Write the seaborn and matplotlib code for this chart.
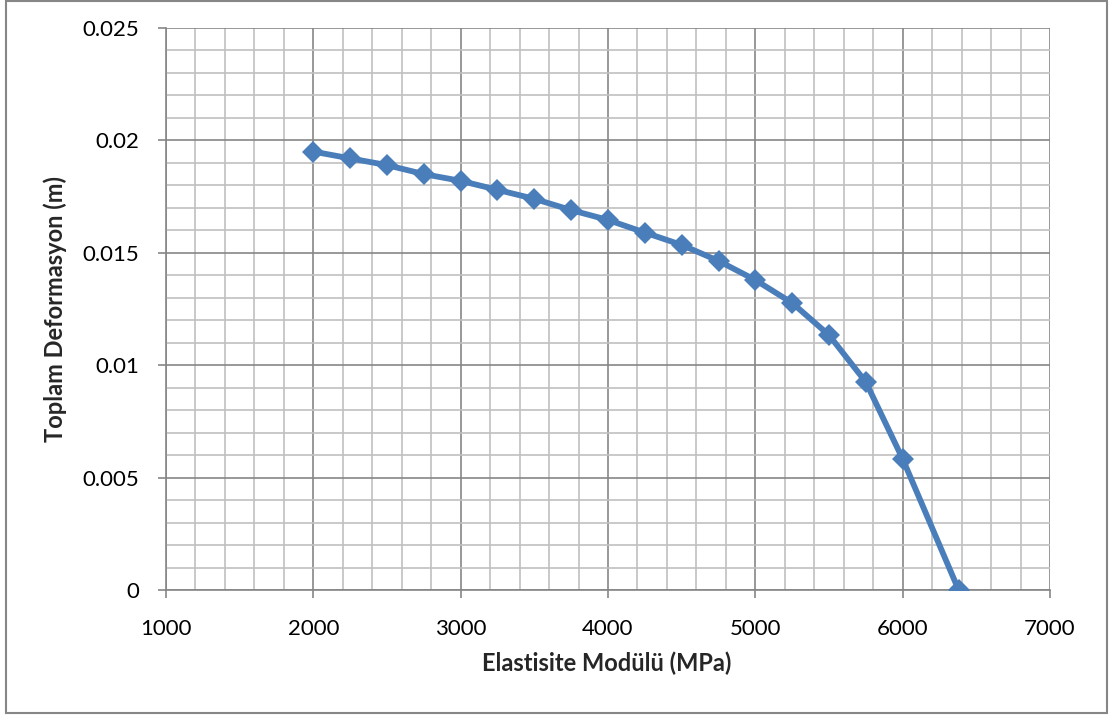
import numpy as np
import pandas as pd
import matplotlib
matplotlib.use("Agg")
import matplotlib.pyplot as plt
import seaborn as sns
from matplotlib.ticker import MultipleLocator
from matplotlib.patches import Rectangle

modulus = [2000, 2250, 2500, 2750, 3000, 3250, 3500, 3750, 4000, 4250,
           4500, 4750, 5000, 5250, 5500, 5750, 6000, 6380]
deformation = [0.0195, 0.0192, 0.0189, 0.0185, 0.0182, 0.0178, 0.0174, 0.0169,
               0.01646, 0.0159, 0.01535, 0.01464, 0.01379, 0.01277, 0.01134,
               0.00925, 0.00583, 0.0]
x_ticks = [1000, 2000, 3000, 4000, 5000, 6000, 7000]
y_ticks = [0, 0.005, 0.01, 0.015, 0.02, 0.025]
y_tick_labels = ["0", "0.005", "0.01", "0.015", "0.02", "0.025"]

df = pd.DataFrame({"E": modulus, "D": deformation})

sns.set_theme(style="white")
plt.rcParams['font.family'] = ['Lato', 'DejaVu Sans']

W, H = 1110, 717
fig = plt.figure(figsize=(W / 100, H / 100), dpi=100)
ax = fig.add_axes([166/W, 1 - 590/H, (1050-166)/W, (590-28)/H])

sns.lineplot(data=df, x="E", y="D", ax=ax, color="#4a7ebb", linewidth=4.2,
             marker="D", markersize=11, markeredgewidth=0, zorder=5)

ax.set_xlim(1000, 7000)
ax.set_ylim(0, 0.025)
ax.set_xticks(x_ticks)
ax.set_xticklabels([str(v) for v in x_ticks])
ax.set_yticks(y_ticks)
ax.set_yticklabels(y_tick_labels)
ax.xaxis.set_minor_locator(MultipleLocator(200))
ax.yaxis.set_minor_locator(MultipleLocator(0.001))

ax.grid(which="minor", color="#c0c0c0", linewidth=1.2)
ax.grid(which="major", color="#868686", linewidth=1.2)
ax.set_axisbelow(True)

for s in ["top", "right"]:
    ax.spines[s].set_visible(False)
for s in ["left", "bottom"]:
    ax.spines[s].set_color("#868686")
    ax.spines[s].set_linewidth(1.2)

ax.tick_params(axis="both", which="major", direction="out", length=6, width=1.2,
               color="#868686", labelsize=16, labelcolor="black")
ax.tick_params(axis="x", which="major", pad=15)
ax.tick_params(axis="y", which="major", pad=13)
ax.tick_params(axis="both", which="minor", length=0)
ax.tick_params(axis="both", which="major", bottom=True, left=True)

ax.set_xlabel("Elastisite Modülü (MPa)", fontsize=17, fontweight="bold")
ax.set_ylabel("Toplam Deformasyon (m)", fontsize=17, fontweight="bold")
ax.xaxis.set_label_coords((607 - 166) / 884, (590 - 652) / 562)
ax.yaxis.set_label_coords((67 - 166) / 884, 0.5)

fig.patches.append(Rectangle((6/W, 1 - 713/H), (1107-6)/W, (713-1)/H,
                             transform=fig.transFigure, fill=False,
                             edgecolor="#868686", linewidth=1.5))

fig.savefig("out.png", dpi=100)
